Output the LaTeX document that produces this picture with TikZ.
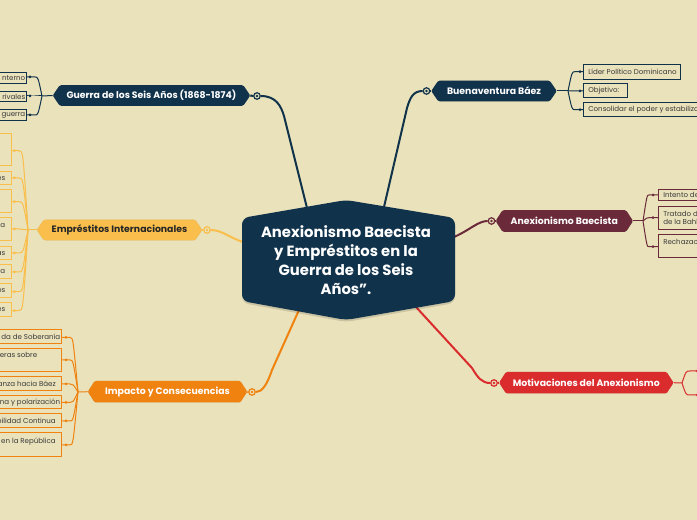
\documentclass[tikz,border=0pt]{standalone}
\usepackage{fontspec}
\setmainfont{Poppins}
\usetikzlibrary{calc}
\definecolor{bg}{HTML}{E9E2BB}
\definecolor{navy}{HTML}{10324B}
\definecolor{amber}{HTML}{F9BE4C}
\definecolor{orng}{HTML}{F0820F}
\definecolor{maroon}{HTML}{6B2A3A}
\definecolor{redc}{HTML}{DA2B2D}
\definecolor{leaftext}{HTML}{3A3A3A}
\definecolor{darktext}{HTML}{262626}
\pgfdeclarelayer{bglayer}
\pgfdeclarelayer{edgelayer}
\pgfdeclarelayer{shapelayer}
\pgfsetlayers{bglayer,edgelayer,shapelayer,main}
\tikzset{
  branchtext/.style={font=\fontsize{7}{8}\selectfont\bfseries, inner sep=0pt},
  leafbox/.style={draw=#1, line width=0.75pt, fill=bg, inner sep=0pt},
  leaftxt/.style={font=\fontsize{5.3}{6.6}\selectfont, text=leaftext, inner sep=0pt, align=left},
  mainconn/.style={draw=#1, line width=1.5pt},
  leafconn/.style={draw=#1, line width=0.75pt},
  marker/.style={circle, draw=#1, fill=bg, line width=0.9pt, minimum size={6.5*0.75pt}, inner sep=0pt},
}
\newcommand\branchshape[2]{%
  \begin{pgfonlayer}{shapelayer}
  \fill[black, opacity=0.13, rounded corners=1pt, yshift=-1.5pt] (#1.west) -- ($(#1.north west)+(7,0)$) -- ($(#1.north east)+(-7,0)$) -- (#1.east) -- ($(#1.south east)+(-7,0)$) -- ($(#1.south west)+(7,0)$) -- cycle;
  \fill[#2, rounded corners=1pt] (#1.west) -- ($(#1.north west)+(7,0)$) -- ($(#1.north east)+(-7,0)$) -- (#1.east) -- ($(#1.south east)+(-7,0)$) -- ($(#1.south west)+(7,0)$) -- cycle;
  \end{pgfonlayer}}
\begin{document}
\begin{tikzpicture}[x=0.75pt,y=-0.75pt]
\useasboundingbox (0,0) rectangle (697,520);
\begin{pgfonlayer}{bglayer}
\fill[bg] (0,0) rectangle (697,520);
\end{pgfonlayer}

% ---------- central node ----------
\node[text=white, font=\fontsize{11.1}{14.25}\selectfont\bfseries, align=center, inner sep=0pt] (c) at (346,260)
  {Anexionismo Baecista\\y Empréstitos en la\\Guerra de los Seis\\Años”.};
\begin{pgfonlayer}{shapelayer}
\fill[black,opacity=0.13,rounded corners=5pt,yshift=-1.5pt] (242,218) -- (346,200) -- (455,218) -- (455,301) -- (346,320) -- (242,301) -- cycle;
\fill[navy,rounded corners=5pt] (242,218) -- (346,200) -- (455,218) -- (455,301) -- (346,320) -- (242,301) -- cycle;
\end{pgfonlayer}
\coordinate (cg) at (307,208);
\coordinate (cb) at (384,207);
\coordinate (ce) at (243,242);
\coordinate (ca) at (454,237);
\coordinate (ci) at (299,310);
\coordinate (cm) at (416,307);

% ---------- branch nodes ----------
\node[branchtext, text=white, minimum width={197*0.75pt}, minimum height={20*0.75pt}] (g) at (151.5,95.5) {Guerra de los Seis Años (1868-1874)};
\branchshape{g}{navy}
\node[branchtext, text=darktext, minimum width={165*0.75pt}, minimum height={20*0.75pt}] (e) at (119.5,230) {Empréstitos Internacionales};
\branchshape{e}{amber}
\node[branchtext, text=white, minimum width={159*0.75pt}, minimum height={21*0.75pt}] (i) at (167.5,391.7) {Impacto y Consecuencias};
\branchshape{i}{orng}
\node[branchtext, text=white, minimum width={125*0.75pt}, minimum height={20*0.75pt}] (b) at (494,91) {Buenaventura Báez};
\branchshape{b}{navy}
\node[branchtext, text=white, minimum width={137*0.75pt}, minimum height={21*0.75pt}] (a) at (564.3,221) {Anexionismo Baecista};
\branchshape{a}{maroon}
\node[branchtext, text=white, minimum width={174*0.75pt}, minimum height={21*0.75pt}] (m) at (586.3,382.7) {Motivaciones del Anexionismo};
\branchshape{m}{redc}

% ---------- markers ----------
\node[marker=navy] (gm) at (257,96) {};   \fill[navy] (gm) circle (1.3);
\node[marker=amber] (em) at (207,230) {}; \fill[amber] (em) circle (1.3);
\node[marker=orng] (im) at (252,392) {};  \fill[orng] (im) circle (1.3);
\node[marker=navy] (bm) at (426.5,91) {}; \fill[navy] (bm) circle (1.3);
\node[marker=maroon] (am) at (491.5,221) {}; \fill[maroon] (am) circle (1.3);
\node[marker=redc] (mm) at (494,383) {};  \fill[redc] (mm) circle (1.3);

% ---------- main connectors ----------
\begin{pgfonlayer}{edgelayer}
\draw[mainconn=navy] (g.east) -- (gm.west);
\draw[mainconn=navy] (gm.east) .. controls (276,96) and (281,106) .. (284,116) -- (cg);
\draw[mainconn=navy] (b.west) -- (bm.east);
\draw[mainconn=navy] (bm.west) .. controls (413,91) and (410,98) .. (407,108) -- (cb);
\draw[mainconn=amber] (e.east) -- (em.west);
\draw[mainconn=amber] (em.east) .. controls (222,230) and (230,238) .. (ce);
\draw[mainconn=maroon] (a.west) -- (am.east);
\draw[mainconn=maroon] (am.west) .. controls (478,221) and (470,230) .. (ca);
\draw[mainconn=orng] (i.east) -- (im.west);
\draw[mainconn=orng] (im.east) .. controls (262,392) and (267,385) .. (272,370) -- (ci);
\draw[mainconn=redc] (m.west) -- (mm.east);
\draw[mainconn=redc] (mm.west) .. controls (482,383) and (478,378) .. (472,368) -- (cm);
\end{pgfonlayer}

% ---------- Guerra leaves ----------
\coordinate (gj) at (42,96);
\begin{pgfonlayer}{edgelayer}\draw[leafconn=navy] (g.west) -- (gj);\end{pgfonlayer}
\foreach \n/\cy/\h/\d in {1/78.5/11/77, 2/97/10/96, 3/115.5/11/115}{
  \node[leafbox=navy, minimum width={100*0.75pt}, minimum height={\h*0.75pt}, anchor=east] (gl\n) at (27,\cy) {};
  \coordinate (gd\n) at (30,\d);
  \fill[navy] (gd\n) circle (1.5);
  \begin{pgfonlayer}{edgelayer}\draw[leafconn=navy] (gj) .. controls (38,\d) .. (35,\d) -- (gd\n) -- ++(-3,0);\end{pgfonlayer}
}
\node[leaftxt, anchor=east] (gt1) at (25.5,78.5) {nterno};
\node[leaftxt, anchor=east] (gt2) at (25.5,97) {rivales};
\node[leaftxt, anchor=east] (gt3) at (25.5,115.5) {guerra};

% ---------- Empréstitos leaves ----------
\coordinate (ej) at (28,230);
\begin{pgfonlayer}{edgelayer}\draw[leafconn=amber] (e.west) -- (ej);\end{pgfonlayer}
\foreach \n/\cy/\h/\d in {1/150/32/150.7, 2/178.3/13.3/178, 3/201.5/23/201.7, 4/229.5/23/229, 5/253.3/13.3/253, 6/272/14/272, 7/291/14/291.7, 8/310/14/310.7}{
  \node[leafbox=amber, minimum width={100*0.75pt}, minimum height={\h*0.75pt}, anchor=east] (el\n) at (12,\cy) {};
  \coordinate (ed\n) at (14.5,\d);
  \fill[amber] (ed\n) circle (1.5);
  \begin{pgfonlayer}{edgelayer}\draw[leafconn=amber] (ej) .. controls (23,\d) .. (19,\d) -- (ed\n) -- ++(-3,0);\end{pgfonlayer}
}
\node[leaftxt, anchor=east] (et2) at (5.5,178.3) {es};
\node[leaftxt, anchor=east] (et4) at (5.5,225) {ía};
\node[leaftxt, anchor=east] (et5) at (5.5,253.3) {as};
\node[leaftxt, anchor=east] (et6) at (5.5,272) {ua};
\node[leaftxt, anchor=east] (et7) at (5.5,291) {os};
\node[leaftxt, anchor=east] (et8) at (5.5,310) {es};

% ---------- Impacto leaves ----------
\coordinate (ij) at (78,392);
\begin{pgfonlayer}{edgelayer}\draw[leafconn=orng] (i.west) -- (ij);\end{pgfonlayer}
\foreach \n/\cy/\h/\d in {1/336.2/14.3/337.5, 2/360/23.4/360, 3/383.6/13.8/384, 4/402.3/13.3/402.5, 5/420.8/13.7/421, 6/444.8/23.7/445}{
  \node[leafbox=orng, minimum width={120*0.75pt}, minimum height={\h*0.75pt}, anchor=east] (il\n) at (62,\cy) {};
  \coordinate (id\n) at (66,\d);
  \fill[orng] (id\n) circle (1.5);
  \begin{pgfonlayer}{edgelayer}\draw[leafconn=orng] (ij) .. controls (73,\d) .. (70,\d) -- (id\n) -- ++(-4,0);\end{pgfonlayer}
}
\node[leaftxt, anchor=east] (it1) at (60.5,336.5) {da de Soberanía};
\node[leaftxt, anchor=east] (it2) at (37.5,356) {jeras sobre};
\node[leaftxt, anchor=east] (it3) at (56,384) {anza hacia Báez};
\node[leaftxt, anchor=east] (it4) at (60.5,402.5) {na y polarización};
\node[leaftxt, anchor=east] (it5) at (56,421) {bilidad Continua};
\node[leaftxt, anchor=east] (it6) at (56,441.5) {a en la República};

% ---------- Buenaventura leaves ----------
\coordinate (bj) at (568,91);
\begin{pgfonlayer}{edgelayer}\draw[leafconn=navy] (b.east) -- (bj);\end{pgfonlayer}
\foreach \n/\cy/\h/\w/\d in {1/71.7/14.7/97/71.7, 2/90.8/13.7/44/90.8, 3/109.7/14/140/109.7}{
  \node[leafbox=navy, minimum width={\w*0.75pt}, minimum height={\h*0.75pt}, anchor=west] (bl\n) at (583,\cy) {};
  \coordinate (bd\n) at (580,\d);
  \fill[navy] (bd\n) circle (1.5);
  \begin{pgfonlayer}{edgelayer}\draw[leafconn=navy] (bj) .. controls (572,\d) .. (575,\d) -- (bd\n) -- ++(3,0);\end{pgfonlayer}
}
\node[leaftxt, anchor=west] (bt1) at (588,71.7) {Líder Político Dominicano};
\node[leaftxt, anchor=west] (bt2) at (588,90.8) {Objetivo:};
\node[leaftxt, anchor=west] (bt3) at (588,109.7) {Consolidar el poder y estabiliza};

% ---------- Anexionismo leaves ----------
\coordinate (aj) at (643,221);
\begin{pgfonlayer}{edgelayer}\draw[leafconn=maroon] (a.east) -- (aj);\end{pgfonlayer}
\foreach \n/\cy/\h/\d in {1/195/11.4/195, 2/218/22.6/217.7, 3/246/23.4/246.7}{
  \node[leafbox=maroon, minimum width={80*0.75pt}, minimum height={\h*0.75pt}, anchor=west] (al\n) at (658,\cy) {};
  \coordinate (ad\n) at (653,\d);
  \fill[maroon] (ad\n) circle (1.5);
  \begin{pgfonlayer}{edgelayer}\draw[leafconn=maroon] (aj) .. controls (647,\d) .. (649,\d) -- (ad\n) -- ++(5,0);\end{pgfonlayer}
}
\node[leaftxt, anchor=west] (at1) at (663,195) {Intento de};
\node[leaftxt, anchor=west] (at2) at (663,218) {Tratado de\\de la Bahí};
\node[leaftxt, anchor=west] (at3) at (663,241.7) {Rechazac};

% ---------- Motivaciones leaves ----------
\coordinate (mj) at (682,383);
\begin{pgfonlayer}{edgelayer}\draw[leafconn=redc] (m.east) -- (mj);\end{pgfonlayer}
\foreach \n/\d in {1/371, 2/395}{
  \coordinate (md\n) at (697,\d);
  \fill[redc] (md\n) circle (1.5);
  \begin{pgfonlayer}{edgelayer}\draw[leafconn=redc] (mj) .. controls (686,\d) .. (690,\d) -- (md\n);\end{pgfonlayer}
}
\end{tikzpicture}
\end{document}
